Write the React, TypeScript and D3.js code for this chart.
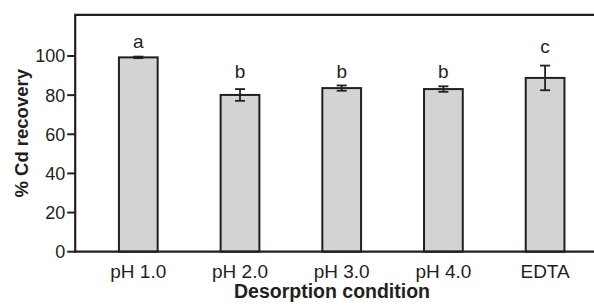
import React from "react";
import * as d3 from "d3";

const categories = ["pH 1.0", "pH 2.0", "pH 3.0", "pH 4.0", "EDTA"];
const recovery = [99.3, 80.1, 83.6, 83.1, 88.8];
const errors = [0.4, 3.0, 1.35, 1.4, 6.3];
const letters = ["a", "b", "b", "b", "c"];
const letterPos = [103.9, 88.7, 88.7, 88.7, 101.4];
const yTicks = [0, 20, 40, 60, 80, 100];

const W = 594;
const H = 308;
const INK = "#231f20";
const FONT = "'Liberation Sans', Arial, Helvetica, sans-serif";

export default function App() {
  const x0 = 75.2;
  const x = d3
    .scaleBand<string>()
    .domain(categories)
    .range([x0, 608.2])
    .paddingInner(0.619)
    .paddingOuter(0.43);
  const y = d3.scaleLinear().domain([0, 100]).range([251.7, 56]);
  const yTop = y(121);
  const bw = x.bandwidth();
  const cap = 10;

  return (
    <svg
      width={W}
      height={H}
      style={{ position: "absolute", left: 0, top: 0, display: "block", background: "#fff" }}
      fontFamily={FONT}
    >
      {/* bars */}
      {categories.map((c, i) => (
        <rect
          key={c}
          x={x(c)}
          y={y(recovery[i])}
          width={bw}
          height={y(0) - y(recovery[i])}
          fill="#d1d3d4"
          stroke={INK}
          strokeWidth={2}
        />
      ))}
      {/* error bars */}
      {categories.map((c, i) => {
        const cx = (x(c) as number) + bw / 2;
        const hi = y(recovery[i] + errors[i]);
        const lo = y(recovery[i] - errors[i]);
        return (
          <g key={"e" + c} stroke={INK} strokeWidth={1.8}>
            <line x1={cx} x2={cx} y1={hi} y2={lo} />
            <line x1={cx - cap / 2} x2={cx + cap / 2} y1={hi} y2={hi} />
            <line x1={cx - cap / 2} x2={cx + cap / 2} y1={lo} y2={lo} />
          </g>
        );
      })}
      {/* significance letters */}
      {categories.map((c, i) => (
        <text
          key={"l" + c}
          x={(x(c) as number) + bw / 2}
          y={y(letterPos[i])}
          textAnchor="middle"
          fontSize={19}
          fill={INK}
        >
          {letters[i]}
        </text>
      ))}
      {/* frame */}
      <line x1={x0} x2={W + 5} y1={yTop} y2={yTop} stroke={INK} strokeWidth={2.2} />
      <line x1={x0} x2={x0} y1={yTop - 1.1} y2={y(0) + 1.1} stroke={INK} strokeWidth={2.2} />
      <line x1={x0} x2={W + 5} y1={y(0)} y2={y(0)} stroke={INK} strokeWidth={2.2} />
      {/* y ticks */}
      {yTicks.map((t) => (
        <g key={"t" + t}>
          <line x1={x0 - 8} x2={x0} y1={y(t)} y2={y(t)} stroke={INK} strokeWidth={2} />
          <text
            x={x0 - 10}
            y={y(t)}
            dy="0.36em"
            textAnchor="end"
            fontSize={18}
            fill={INK}
          >
            {t}
          </text>
        </g>
      ))}
      {/* x labels */}
      {categories.map((c) => (
        <text
          key={"x" + c}
          x={(x(c) as number) + bw / 2}
          y={277.7}
          textAnchor="middle"
          fontSize={19}
          fill={INK}
        >
          {c}
        </text>
      ))}
      <text x={332} y={298.3} textAnchor="middle" fontSize={19.5} fontWeight="bold" fill={INK}>
        Desorption condition
      </text>
      <text
        transform={`translate(27.5, ${(yTop + y(0)) / 2}) rotate(-90)`}
        textAnchor="middle"
        fontSize={18.5}
        fontWeight="bold"
        fill={INK}
      >
        % Cd recovery
      </text>
    </svg>
  );
}
